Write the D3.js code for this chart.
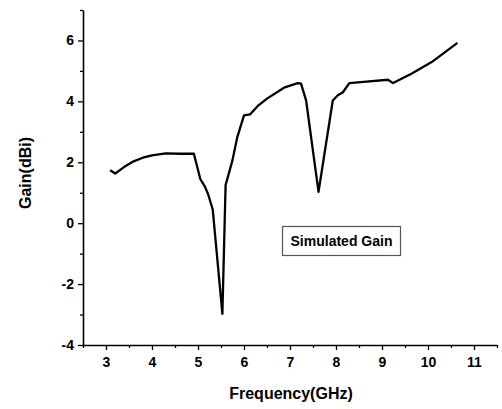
<!DOCTYPE html>
<html>
<head>
<meta charset="utf-8">
<script src="https://cdn.jsdelivr.net/npm/d3@7"></script>
<style>
  body { margin: 0; background: #fff; }
  text { font-family: "Liberation Sans", Arial, sans-serif; font-weight: bold; }
</style>
</head>
<body>
<svg width="502" height="409"></svg>
<script>
// data
var freq = [3.09, 3.2, 3.4, 3.6, 3.8, 4.0, 4.3, 4.6, 4.91, 5.05, 5.15, 5.22, 5.32, 5.53, 5.6, 5.75, 5.85, 6.0, 6.13, 6.3, 6.5, 6.87, 7.17, 7.24, 7.35, 7.62, 7.93, 8.04, 8.15, 8.29, 8.6, 9.13, 9.24, 9.64, 10.08, 10.64];
var gain = [1.74, 1.63, 1.85, 2.03, 2.15, 2.23, 2.29, 2.28, 2.28, 1.45, 1.2, 0.95, 0.45, -2.98, 1.25, 2.07, 2.8, 3.54, 3.57, 3.85, 4.09, 4.45, 4.6, 4.58, 4.03, 1.03, 4.03, 4.2, 4.3, 4.6, 4.64, 4.71, 4.6, 4.91, 5.29, 5.92];
var xTicks = [3, 4, 5, 6, 7, 8, 9, 10, 11];
var yTicks = [-4, -2, 0, 2, 4, 6];
var legendLabel = "Simulated Gain";

var svg = d3.select("svg");
var mLeft = 83, mRight = 497, mTop = 10, mBottom = 345;

var x = d3.scaleLinear().domain([2.5, 11.5]).range([mLeft, mRight]);
var y = d3.scaleLinear().domain([-4, 7]).range([mBottom, mTop]);

// minor ticks
var xMinor = d3.range(2.5, 11.51, 0.5).filter(function(d){ return xTicks.indexOf(d) < 0 });
var yMinor = d3.range(-3, 7.01, 2);
var plain = function(d){ return String(d) };  // keep a hyphen for negatives

// x axis
svg.append("g")
    .attr("transform", "translate(0," + mBottom + ")")
    .call(d3.axisBottom(x).tickValues(xMinor).tickSize(3).tickFormat(""))
    .call(function(g){ g.select(".domain").remove() })
    .selectAll("line").attr("stroke-width", 1.3);

var gx = svg.append("g")
    .attr("transform", "translate(0," + mBottom + ")")
    .call(d3.axisBottom(x).tickValues(xTicks).tickSize(5).tickSizeOuter(0).tickPadding(7).tickFormat(plain));
gx.select(".domain").attr("stroke-width", 1.6);
gx.selectAll("line").attr("stroke-width", 1.3);
gx.selectAll("text").style("font-size", "14px").attr("fill", "#000");

// y axis
svg.append("g")
    .attr("transform", "translate(" + mLeft + ",0)")
    .call(d3.axisLeft(y).tickValues(yMinor).tickSize(3).tickFormat(""))
    .call(function(g){ g.select(".domain").remove() })
    .selectAll("line").attr("stroke-width", 1.3);

var gy = svg.append("g")
    .attr("transform", "translate(" + mLeft + ",0)")
    .call(d3.axisLeft(y).tickValues(yTicks).tickSize(5).tickSizeOuter(0).tickPadding(4).tickFormat(plain));
gy.select(".domain").attr("stroke-width", 1.6);
gy.selectAll("line").attr("stroke-width", 1.3);
gy.selectAll("text").style("font-size", "14px").attr("fill", "#000");

// curve
var pts = freq.map(function(f, i){ return [f, gain[i]] });
svg.append("path")
    .datum(pts)
    .attr("fill", "none")
    .attr("stroke", "#000")
    .attr("stroke-width", 2.3)
    .attr("stroke-linejoin", "round")
    .attr("d", d3.line()
        .x(function(d){ return x(d[0]) })
        .y(function(d){ return y(d[1]) })
    );

// axis titles
svg.append("text")
    .attr("x", 291)
    .attr("y", 399)
    .attr("text-anchor", "middle")
    .style("font-size", "16px")
    .text("Frequency(GHz)");

svg.append("text")
    .attr("transform", "translate(31,173) rotate(-90)")
    .attr("text-anchor", "middle")
    .style("font-size", "16px")
    .text("Gain(dBi)");

// legend box
svg.append("rect")
    .attr("x", 282.5)
    .attr("y", 226.5)
    .attr("width", 118)
    .attr("height", 29)
    .attr("fill", "#fff")
    .attr("stroke", "#555")
    .attr("stroke-width", 1.2);

svg.append("text")
    .attr("x", 341.5)
    .attr("y", 246)
    .attr("text-anchor", "middle")
    .style("font-size", "14px")
    .text(legendLabel);
</script>
</body>
</html>
